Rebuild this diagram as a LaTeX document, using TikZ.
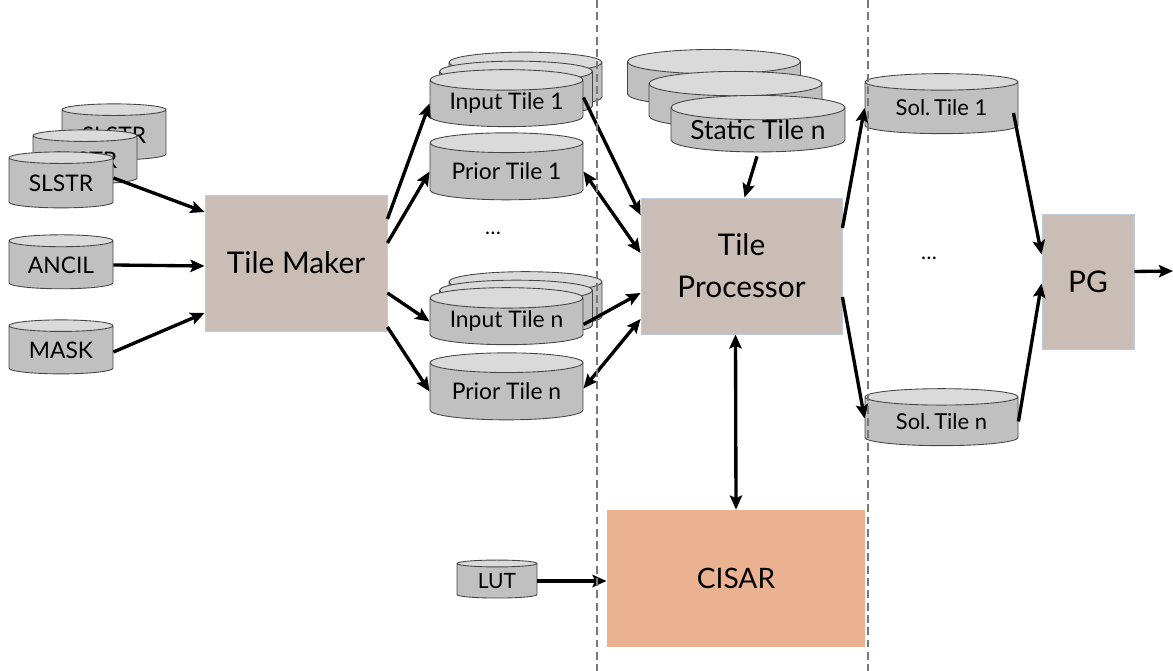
\documentclass[tikz,border=0pt]{standalone}
\usepackage{fontspec}
\setmainfont{Lato}
\usetikzlibrary{shapes.geometric,arrows.meta,calc}
\definecolor{dbbody}{RGB}{192,192,192}
\definecolor{dbtop}{RGB}{218,218,218}
\definecolor{dbline}{RGB}{70,70,70}
\definecolor{procfill}{RGB}{201,189,182}
\definecolor{procline}{RGB}{190,205,222}
\definecolor{cisarfill}{RGB}{234,178,144}
\definecolor{sepgray}{RGB}{120,120,120}
\newcommand{\pxu}{0.02cm}
\newcommand{\fsz}[1]{\fontsize{#1}{#1}\selectfont}
\begin{document}
\begin{tikzpicture}[x=0.02cm,y=-0.02cm,
  db/.style={cylinder, shape border rotate=90, aspect=0.18, draw=dbline, line width=0.5pt,
    cylinder uses custom fill, cylinder body fill=dbbody, cylinder end fill=dbtop,
    inner sep=0pt, text=black},
  proc/.style={rectangle, fill=procfill, draw=procline, line width=0.5pt, inner sep=0pt, align=center},
  tip/.style={Stealth[length=8pt,width=7pt,inset=1.5pt]},
  flow/.style={line width=1.9pt, -{Stealth[length=8pt,width=7pt,inset=1.5pt]}},
  both/.style={line width=1.9pt, {Stealth[length=8pt,width=7pt,inset=1.5pt]}-{Stealth[length=8pt,width=7pt,inset=1.5pt]}},
  sep/.style={draw=sepgray, line width=0.6pt, dash pattern=on 4.5pt off 2.5pt}]
\useasboundingbox (0,0) rectangle (1173,671);

% inputs
\node[db, minimum width=104*\pxu, minimum height=56*\pxu, font=\fsz{13}] (slstrC) at (114,135) {SLSTR};
\node[db, minimum width=104*\pxu, minimum height=54*\pxu, font=\fsz{13}] (slstrB) at (85,160) {SLSTR};
\node[db, minimum width=104*\pxu, minimum height=56*\pxu, font=\fsz{13}] (slstr) at (61,183) {SLSTR};
\node[db, minimum width=104*\pxu, minimum height=54*\pxu, font=\fsz{13}] (ancil) at (61,265) {ANCIL};
\node[db, minimum width=104*\pxu, minimum height=54*\pxu, font=\fsz{13}] (mask) at (61,350) {MASK};

\node[proc, minimum width=182*\pxu, minimum height=136*\pxu, font=\fsz{17}] (tm) at (296,263) {Tile Maker};

% tiles
\node[db, minimum width=153*\pxu, minimum height=55*\pxu, font=\fsz{13}] (in1c) at (525.5,85) {\phantom{Input Tile 1}};
\node[db, minimum width=153*\pxu, minimum height=55*\pxu, font=\fsz{13}] (in1b) at (516,94) {\phantom{Input Tile 1}};
\node[db, minimum width=153*\pxu, minimum height=57*\pxu, font=\fsz{13}] (in1) at (506.5,103.5) {Input Tile 1};
\node[db, minimum width=153*\pxu, minimum height=67*\pxu, font=\fsz{13}] (pr1) at (506.5,171.5) {Prior Tile 1};
\node[font=\fsz{12}] (dots1) at (493,233) {\dots};
\node[db, minimum width=153*\pxu, minimum height=55*\pxu, font=\fsz{13}] (inNc) at (525.5,304.5) {\phantom{Input Tile n}};
\node[db, minimum width=153*\pxu, minimum height=55*\pxu, font=\fsz{13}] (inNb) at (516,313) {\phantom{Input Tile n}};
\node[db, minimum width=153*\pxu, minimum height=57*\pxu, font=\fsz{13}] (inN) at (506.5,321.5) {Input Tile n};
\node[db, minimum width=153*\pxu, minimum height=67*\pxu, font=\fsz{13}] (prN) at (506.5,391.5) {Prior Tile n};

% static tiles
\node[db, minimum width=173*\pxu, minimum height=54*\pxu, font=\fsz{15}] (stC) at (714,84) {\phantom{Static Tile n}};
\node[db, minimum width=173*\pxu, minimum height=54*\pxu, font=\fsz{15}] (stB) at (735.5,106) {\phantom{Static Tile n}};
\node[db, minimum width=174*\pxu, minimum height=56*\pxu, font=\fsz{15}] (st) at (758,130) {Static Tile n};

\node[proc, minimum width=201*\pxu, minimum height=136*\pxu, font=\fsz{17}] (tp) at (741.5,266) {Tile\\[7pt]Processor};
\node[proc, fill=cisarfill, draw=none, minimum width=258*\pxu, minimum height=137*\pxu, font=\fsz{16}] (cisar) at (736,578.5) {CISAR};
\node[db, minimum width=80*\pxu, minimum height=38*\pxu, font=\fsz{12}] (lut) at (497,581) {LUT};

% solutions
\node[db, minimum width=153*\pxu, minimum height=60*\pxu, font=\fsz{12.5}] (sol1) at (941.5,108) {Sol.\,Tile 1};
\node[font=\fsz{12}] (dots2) at (929,258) {\dots};
\node[db, minimum width=153*\pxu, minimum height=57*\pxu, font=\fsz{12.5}] (solN) at (941.5,421.5) {Sol.\,Tile n};
\node[proc, minimum width=92*\pxu, minimum height=135*\pxu, font=\fsz{17}] (pg) at (1088,281.5) {PG};
\coordinate (out) at (1173,271);

% connectors
\draw[flow] ($(slstr.east)+(0,-5)$) -- ($(tm.west)+(0,-51)$);
\draw[flow] (ancil.east) -- ($(tm.west)+(0,3)$);
\draw[flow] ($(mask.east)+(0,2)$) -- ($(tm.west)+(0,50)$);
\draw[flow] ($(tm.east)+(0,-44)$) -- (in1.west);
\draw[flow] ($(tm.east)+(0,-20)$) -- (pr1.west);
\draw[flow] ($(tm.east)+(0,30)$) -- (inN.west);
\draw[flow] ($(tm.east)+(0,64)$) -- (prN.west);
\draw[flow] ($(in1.east)+(0,-6)$) -- ($(tp.west)+(0,-51)$);
\draw[both] (pr1.east) -- ($(tp.west)+(0,-13)$);
\draw[flow] ($(inN.east)+(0,3)$) -- ($(tp.west)+(0,27)$);
\draw[both] ($(prN.east)+(0,-3)$) -- ($(tp.west)+(0,53)$);
\draw[flow] ($(st.south)+(-1,4)$) -- ($(tp.north)+(3,0)$);
\draw[both] ($(tp.south)+(-6,0)$) -- (cisar.north);
\draw[flow] (lut.east) -- (lut.east -| cisar.west);
\draw[flow] ($(tp.east)+(0,-38)$) -- (sol1.west);
\draw[flow] ($(tp.east)+(0,31)$) -- ($(solN.west)+(0,-3)$);
\draw[flow] ($(sol1.east)+(-5,5)$) -- ($(pg.west)+(0,-27)$);
\draw[flow] (solN.east) -- ($(pg.west)+(0,2)$);
\draw[flow] ($(pg.east)+(0,-10)$) -- (out);

% separators
\draw[sep] (597,0) -- (597,671);
\draw[sep] (868,0) -- (868,671);
\end{tikzpicture}
\end{document}
